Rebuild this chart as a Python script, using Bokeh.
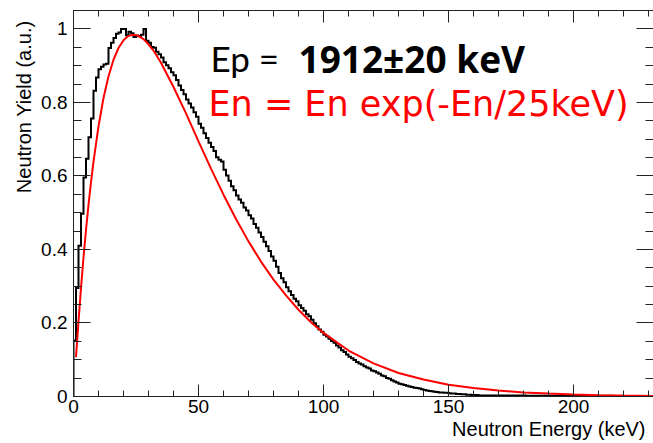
import numpy as np
from bokeh.plotting import figure
from bokeh.models import (Range1d, LinearAxis, SingleIntervalTicker, Label, Title,
                          CustomJSTickFormatter)
from bokeh.embed import file_html
from bokeh.resources import INLINE

# ---------------- data ----------------
# histogram: 1 keV bins starting at 0 keV
bin_width_kev = 1.0
neutron_yield = [
    0.152, 0.295, 0.410, 0.497, 0.596, 0.647, 0.705, 0.756, 0.832, 0.868,
    0.890, 0.897, 0.903, 0.905, 0.948, 0.962, 0.975, 0.987, 0.990, 1.000,
    1.000, 0.983, 0.992, 0.988, 0.978, 0.982, 0.980, 0.984, 1.000, 0.968,
    0.962, 0.951, 0.949, 0.938, 0.931, 0.922, 0.909, 0.901, 0.893, 0.882,
    0.874, 0.861, 0.846, 0.834, 0.822, 0.808, 0.797, 0.786, 0.773, 0.761,
    0.742, 0.731, 0.716, 0.703, 0.690, 0.679, 0.668, 0.651, 0.644, 0.639,
    0.617, 0.601, 0.587, 0.572, 0.561, 0.547, 0.536, 0.527, 0.514, 0.506,
    0.493, 0.484, 0.469, 0.459, 0.446, 0.434, 0.421, 0.409, 0.396, 0.381,
    0.369, 0.353, 0.336, 0.322, 0.311, 0.297, 0.286, 0.276, 0.266, 0.259,
    0.248, 0.241, 0.233, 0.224, 0.218, 0.209, 0.199, 0.191, 0.182, 0.176,
    0.168, 0.163, 0.157, 0.151, 0.146, 0.139, 0.133, 0.126, 0.121, 0.114,
    0.108, 0.104, 0.099, 0.094, 0.090, 0.087, 0.082, 0.079, 0.076, 0.071,
    0.069, 0.065, 0.062, 0.057, 0.055, 0.050, 0.048, 0.044, 0.041, 0.038,
    0.035, 0.033, 0.031, 0.029, 0.027, 0.026, 0.024, 0.023, 0.022, 0.020,
    0.018, 0.016, 0.015, 0.014, 0.013, 0.012, 0.011, 0.011, 0.010, 0.010,
    0.009, 0.008, 0.008, 0.007, 0.007, 0.006, 0.006, 0.005, 0.005, 0.004,
    0.004, 0.004, 0.003, 0.003, 0.003, 0.003, 0.003, 0.003, 0.003, 0.003,
    0.003, 0.003, 0.003, 0.003, 0.003, 0.003, 0.003, 0.003, 0.003, 0.003,
    0.003, 0.002, 0.002, 0.002, 0.002, 0.002, 0.002, 0.002, 0.002, 0.002,
    0.002, 0.002, 0.002, 0.002, 0.002, 0.002, 0.002, 0.002, 0.002, 0.002,
    0.002, 0.002, 0.002, 0.002, 0.002, 0.002, 0.002, 0.002, 0.002, 0.002,
    0.002, 0.002, 0.002, 0.002, 0.002, 0.002, 0.001, 0.001, 0.001, 0.001,
    0.001, 0.001, 0.001, 0.001, 0.001, 0.001, 0.001, 0.001, 0.001, 0.001,
    0.001, 0.001,
]

# fitted curve En*exp(-En/T)
fit_energy = [1, 2, 3, 4, 5, 6, 7, 8, 10, 12, 14, 16, 18, 20, 22, 24, 26, 28,
              30, 32, 35, 40, 45, 50, 55, 60, 65, 70, 75, 80, 85, 90, 95, 100,
              110, 120, 130, 140, 150, 160, 170, 180, 190, 200, 210, 220, 232]
fit_yield = [0.107, 0.205, 0.295, 0.378, 0.453, 0.521, 0.583, 0.639, 0.735,
             0.812, 0.871, 0.916, 0.948, 0.969, 0.981, 0.984, 0.981, 0.972,
             0.958, 0.941, 0.908, 0.842, 0.770, 0.694, 0.620, 0.549, 0.483,
             0.422, 0.367, 0.318, 0.275, 0.236, 0.202, 0.173, 0.125, 0.090,
             0.064, 0.046, 0.032, 0.023, 0.016, 0.011, 0.008, 0.0054, 0.0037,
             0.0026, 0.0016]

x_tick_interval = 50
y_tick_interval = 0.2
x_title = "Neutron Energy (keV)"
y_title = "Neutron Yield (a.u.)"

X_MAX = 232.0
Y_MAX = 1.05

# ---------------- figure ----------------
p = figure(width=653, height=443, output_backend="svg", toolbar_location=None,
           x_range=Range1d(0, X_MAX), y_range=Range1d(0, Y_MAX),
           x_axis_type=None, y_axis_type=None,
           min_border_left=73, min_border_right=0, min_border_top=10,
           min_border_bottom=47)
p.outline_line_color = None
p.background_fill_color = "white"
p.border_fill_color = "white"

TICK_FONT = "Liberation Sans"


def make_axis(ticker, tick_len, minor_len, show_labels, standoff=6, formatter=None):
    ax = LinearAxis(ticker=ticker)
    if formatter is not None:
        ax.formatter = formatter
    ax.axis_line_color = "#222222"
    ax.axis_line_width = 1
    ax.major_tick_line_color = "#222222"
    ax.minor_tick_line_color = "#222222"
    ax.major_tick_in = tick_len
    ax.major_tick_out = 0
    ax.minor_tick_in = minor_len
    ax.minor_tick_out = 0
    if show_labels:
        ax.major_label_text_font = TICK_FONT
        ax.major_label_text_font_size = "19px"
        ax.major_label_text_color = "black"
        ax.major_label_standoff = standoff
    else:
        ax.major_label_text_font_size = "0px"
        ax.major_label_standoff = 0
        ax.major_label_text_alpha = 0
    return ax


yfmt = CustomJSTickFormatter(code="return (Math.round(tick*100)/100).toString();")

p.add_layout(make_axis(SingleIntervalTicker(interval=x_tick_interval, num_minor_ticks=5),
                       12, 6, True, standoff=3), "below")
p.add_layout(make_axis(SingleIntervalTicker(interval=y_tick_interval, num_minor_ticks=4),
                       17, 8, True, standoff=6, formatter=yfmt), "left")
p.add_layout(make_axis(SingleIntervalTicker(interval=x_tick_interval, num_minor_ticks=5),
                       12, 6, False), "above")
p.add_layout(make_axis(SingleIntervalTicker(interval=y_tick_interval, num_minor_ticks=4),
                       17, 8, False), "right")

# axis titles (ROOT style: aligned to the end of the axis)
p.add_layout(Title(text=x_title, align="right", offset=8, standoff=0,
                   text_font=TICK_FONT, text_font_size="20px",
                   text_font_style="normal", text_color="black"), "below")
p.add_layout(Title(text=y_title, align="right", offset=10, standoff=7,
                   text_font=TICK_FONT, text_font_size="20px",
                   text_font_style="normal", text_color="black"), "left")

# ---------------- histogram (step outline) ----------------
vals = np.asarray(neutron_yield, dtype=float)
edges = np.arange(len(vals) + 1) * bin_width_kev
hx = np.repeat(edges, 2)[1:-1]
hy = np.repeat(vals, 2)
hx = np.concatenate([[edges[0]], hx])
hy = np.concatenate([[0.0], hy])
p.line(x=hx, y=hy, line_color="black", line_width=2, line_join="miter")

# ---------------- fit curve ----------------
p.line(x=fit_energy, y=fit_yield, line_color="#ff0000", line_width=2)

# ---------------- texts ----------------
p.add_layout(Label(x=54.8, y=0.9195, text="Ep =", text_align="left",
                   text_baseline="alphabetic", text_font="Lato",
                   text_font_size="35px", text_color="black"))
p.add_layout(Label(x=90.0, y=0.9195, text="1912±20 keV", text_align="left",
                   text_baseline="alphabetic", text_font="Open Sans",
                   text_font_style="bold", text_font_size="37px", text_color="black"))
p.add_layout(Label(x=54.0, y=0.797, text="En = En exp(-En/25keV)", text_align="left",
                   text_baseline="alphabetic", text_font="DejaVu Sans",
                   text_font_size="35px", text_color="#ff0000"))

open("out.html", "w").write(file_html(p, INLINE))
